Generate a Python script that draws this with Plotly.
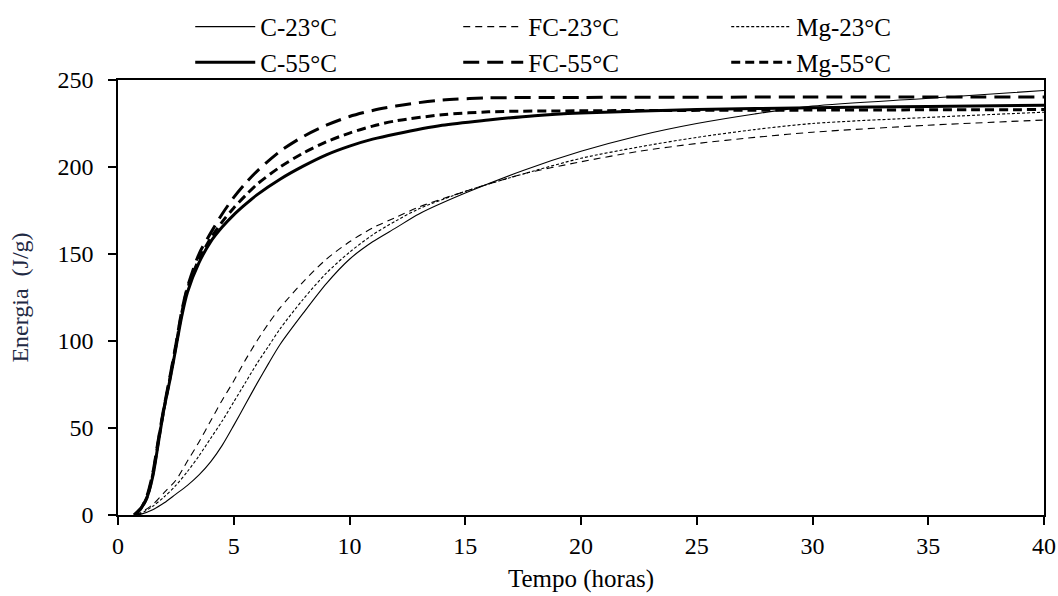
import plotly.graph_objects as go

# ---- data ----
t_c23 = [0.7, 1, 1.5, 2, 2.5, 3, 3.5, 4, 4.5, 5, 5.5, 6, 6.5, 7, 8, 9, 10, 11, 12, 13, 15, 17.5, 20, 22.5, 25, 27.5, 30, 35, 40]
e_c23 = [0, 0.5, 3, 7, 12, 17, 23, 30.5, 40, 51.5, 63.5, 75.5, 87, 98, 116, 133, 147, 157, 165, 173, 185, 198, 209, 218, 225, 230.5, 235, 239.5, 244]

t_fc23 = [0.7, 1, 1.5, 2, 2.5, 3, 3.5, 4, 4.5, 5, 5.5, 6, 6.5, 7, 8, 9, 10, 11, 12, 13, 15, 17.5, 20, 22.5, 25, 27.5, 30, 35, 40]
e_fc23 = [0, 1.5, 6, 13, 20, 31, 42, 54, 66, 77, 89, 100, 110, 119, 134, 147, 157, 165, 171, 177, 186, 196, 203, 209, 213.5, 217, 220, 224, 227]

t_mg23 = [0.7, 1, 1.5, 2, 2.5, 3, 3.5, 4, 4.5, 5, 5.5, 6, 6.5, 7, 8, 9, 10, 11, 12, 13, 15, 17.5, 20, 22.5, 25, 27.5, 30, 35, 40]
e_mg23 = [0, 1, 5, 10.5, 17, 25, 34, 44, 54, 65, 76, 87, 97, 107, 124, 139, 151, 161, 169, 176, 186, 196, 205, 211.5, 217, 221.5, 225, 228.5, 231.5]

t_c55 = [0.7, 1, 1.25, 1.5, 1.75, 2, 2.25, 2.5, 2.75, 3, 3.5, 4, 4.5, 5, 5.5, 6, 7, 8, 9, 10, 11, 12, 14, 16, 18, 20, 25, 30, 35, 40]
e_c55 = [0, 4, 10, 22, 42, 62, 78, 96, 114, 128, 145, 157, 165.5, 172.5, 178.5, 184, 193, 200.5, 207, 212, 216, 219, 224, 227, 229.5, 231, 233, 234, 234.8, 235.5]

t_fc55 = [0.7, 1, 1.25, 1.5, 1.75, 2, 2.25, 2.5, 2.75, 3, 3.5, 4, 4.5, 5, 5.5, 6, 7, 8, 9, 10, 11, 12, 13, 14, 16, 20, 30, 40]
e_fc55 = [0, 4, 11, 24, 44, 63, 80, 98, 117, 131, 150, 162, 173, 182.5, 190.5, 197.5, 209, 217.5, 224, 229, 232.5, 235, 237, 238.5, 239.7, 240, 240.2, 240.3]

t_mg55 = [0.7, 1, 1.25, 1.5, 1.75, 2, 2.25, 2.5, 2.75, 3, 3.5, 4, 4.5, 5, 5.5, 6, 7, 8, 9, 10, 11, 12, 14, 16, 20, 30, 40]
e_mg55 = [0, 4, 10, 23, 43, 62, 79, 97, 116, 130, 147, 159, 168.5, 176.5, 183.5, 190, 200, 208, 214.5, 219.5, 223.5, 226.5, 230, 231.7, 232.3, 232.7, 233]

x_ticks = [0, 5, 10, 15, 20, 25, 30, 35, 40]
y_ticks = [0, 50, 100, 150, 200, 250]

FONT = "Liberation Serif"

series = [
    ("C-23°C", t_c23, e_c23, 1.1, "solid"),
    ("FC-23°C", t_fc23, e_fc23, 1.1, "7px,5px"),
    ("Mg-23°C", t_mg23, e_mg23, 1.1, "3px,2px"),
    ("C-55°C", t_c55, e_c55, 3, "solid"),
    ("FC-55°C", t_fc55, e_fc55, 3, "16px,8px"),
    ("Mg-55°C", t_mg55, e_mg55, 3, "9px,5px"),
]

fig = go.Figure()
for name, tx, ey, w, dash in series:
    fig.add_trace(go.Scatter(
        x=tx, y=ey, mode="lines", name=name,
        line=dict(color="black", width=w, dash=dash, shape="spline", smoothing=0.8),
    ))

fig.update_layout(
    width=1058, height=596,
    margin=dict(l=118, r=14, t=80, b=81, autoexpand=False),
    paper_bgcolor="white", plot_bgcolor="white",
    font=dict(family=FONT, size=24, color="black"),
    showlegend=True,
    legend=dict(
        orientation="h", x=0.078, xanchor="left", y=1.175, yanchor="top",
        entrywidth=193, entrywidthmode="pixels", itemwidth=60,
        font=dict(family=FONT, size=25, color="black"),
        bgcolor="rgba(0,0,0,0)", traceorder="normal",
    ),
    xaxis=dict(
        range=[0, 40], tickvals=x_ticks, ticks="outside", ticklen=8, tickwidth=1.5,
        tickcolor="black", showline=True, linecolor="black", linewidth=1.5, mirror=True,
        showgrid=False, zeroline=False, automargin=False,
        title=dict(text="Tempo (horas)", font=dict(family=FONT, size=25), standoff=12),
        tickfont=dict(family=FONT, size=24),
    ),
    yaxis=dict(
        range=[0, 250], tickvals=y_ticks, ticks="outside", ticklen=8, tickwidth=1.5,
        tickcolor="black", showline=True, linecolor="black", linewidth=1.5, mirror=True,
        showgrid=False, zeroline=False, automargin=False, ticklabelstandoff=10,
        title=dict(text="Energia  (J/g)", font=dict(family=FONT, size=24, color="#1f2a44"), standoff=22),
        tickfont=dict(family=FONT, size=24),
    ),
)

fig.write_html(
    "out.html",
    config={"displayModeBar": False},
    post_script="document.body.style.margin='0';document.body.style.padding='0';",
)
